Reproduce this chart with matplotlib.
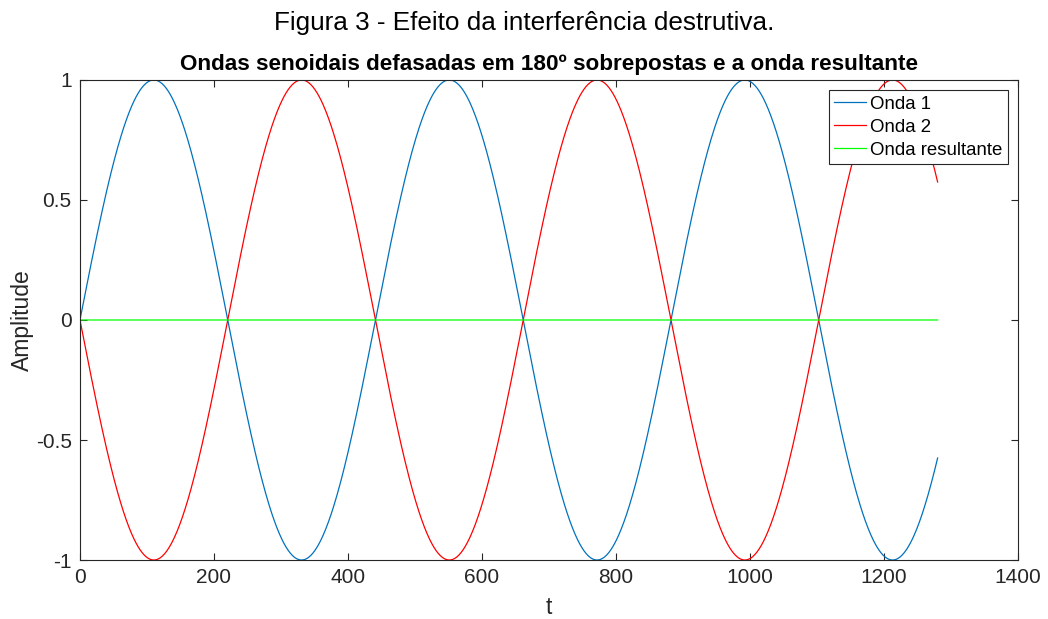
import numpy as np
import matplotlib
matplotlib.use("Agg")
import matplotlib.pyplot as plt

# wave parameters (100 Hz sampled at 44.1 kHz -> 441 samples per period)
amplitude = 1.0
period = 441.0
t_end = 1280
series_names = ["Onda 1", "Onda 2", "Onda resultante"]
series_colors = ["#0072BD", "#FF0000", "#00FF00"]
x_ticks = [0, 200, 400, 600, 800, 1000, 1200, 1400]
y_ticks = [-1, -0.5, 0, 0.5, 1]
y_tick_labels = ["-1", "-0.5", "0", "0.5", "1"]

t = np.arange(0, t_end + 1)
onda1 = amplitude * np.sin(2 * np.pi * t / period)
onda2 = amplitude * np.sin(2 * np.pi * t / period + np.pi)
resultante = onda1 + onda2

plt.rcParams["font.family"] = ["Liberation Sans", "DejaVu Sans"]

fig = plt.figure(figsize=(10.48, 6.19), dpi=100)
ax = fig.add_axes([0.0763, 0.0953, 0.8951, 0.7755])

for values, name, color in zip([onda1, onda2, resultante], series_names, series_colors):
    ax.plot(t, values, color=color, linewidth=0.9, label=name)

ax.set_xlim(0, 1400)
ax.set_ylim(-1, 1)
ax.set_xticks(x_ticks)
ax.set_yticks(y_ticks, labels=y_tick_labels)
ax.tick_params(direction="in", top=True, right=True, labelsize=15, length=5,
               color="#262626", labelcolor="#262626", pad=6)
for spine in ax.spines.values():
    spine.set_color("#262626")
    spine.set_linewidth(0.8)

ax.set_xlabel("t", fontsize=16.5, color="#262626", labelpad=6)
ax.set_ylabel("Amplitude", fontsize=16.5, color="#262626", labelpad=1)
ax.set_title("Ondas senoidais defasadas em 180º sobrepostas e a onda resultante",
             fontsize=16.2, fontweight="bold", pad=7)
fig.suptitle("Figura 3 - Efeito da interferência destrutiva.", fontsize=18.8, y=0.982)

leg = ax.legend(loc="upper right", fontsize=13.4, fancybox=False, framealpha=1,
                edgecolor="#262626", borderpad=0.3, labelspacing=0.32,
                handlelength=1.7, handletextpad=0.2, borderaxespad=0.55)
leg.get_frame().set_linewidth(0.8)

fig.savefig("out.png", dpi=100)
